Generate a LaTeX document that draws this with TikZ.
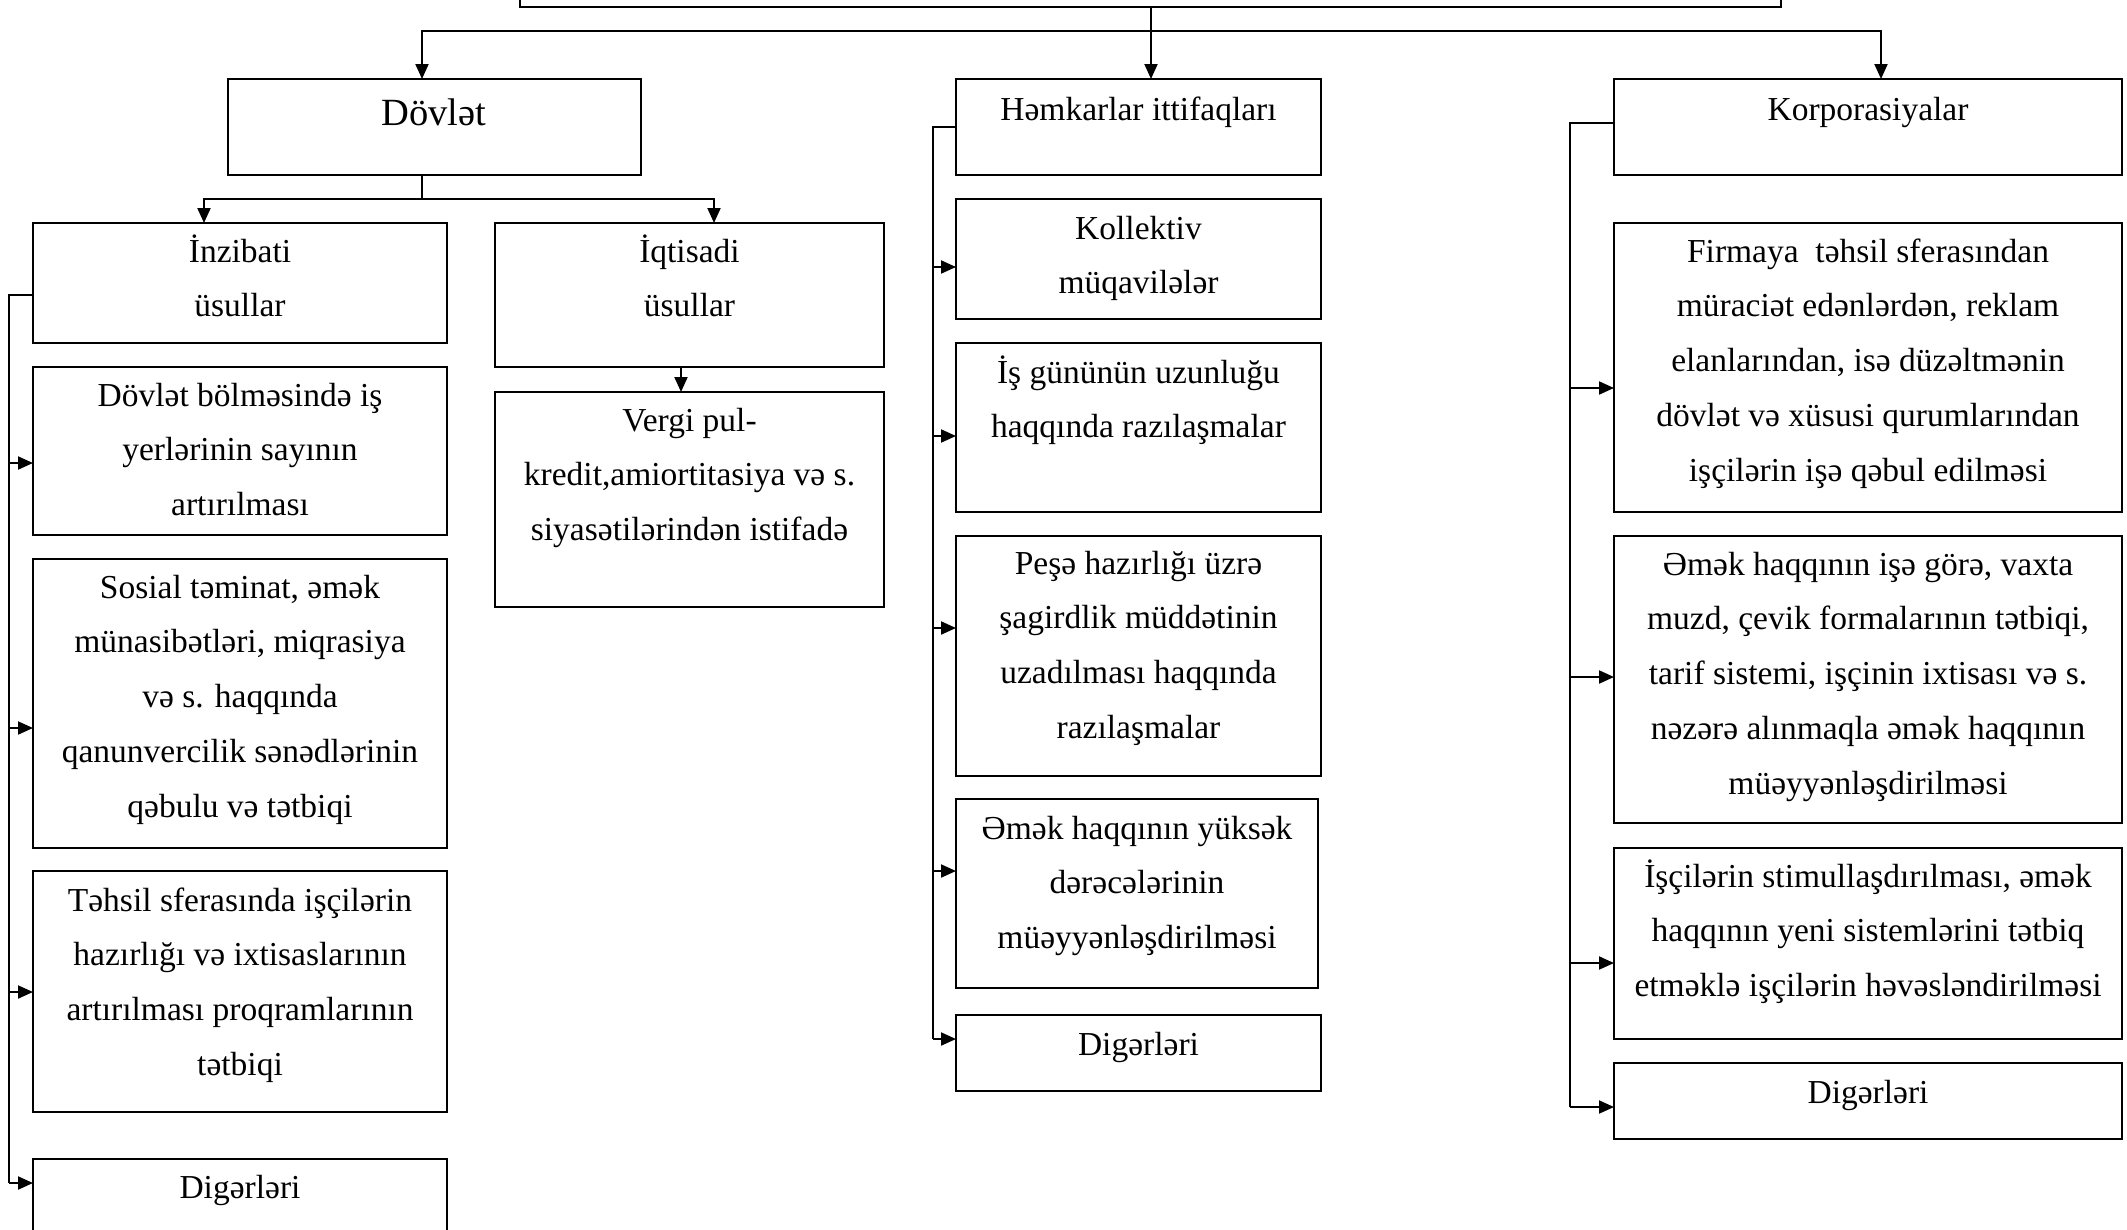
\documentclass[tikz,border=0pt]{standalone}
\usepackage{fontspec}
\setmainfont{Liberation Serif}
\usetikzlibrary{arrows.meta}
\newcommand\mybox[5]{\node[box, minimum width={(#4-#2)*1pt}, minimum height={(#5-#3)*1pt}] (#1) at (#2,#3) {};}
\newcommand\mytxt[4]{\node[txt] (#1) at (#2,#3-38.36) {\strut#4};}
\begin{document}
\begin{tikzpicture}[x=1pt,y=-1pt,
  box/.style={draw, line width=2.4pt, inner sep=0pt, outer sep=0pt, anchor=north west},
  txt/.style={inner sep=0pt, outer sep=0pt, align=center, anchor=north, font=\fontsize{33.5}{54.8}\selectfont},
  bigtxt/.style={txt, font=\fontsize{38.5}{54.8}\selectfont},
  conn/.style={line width=2pt},
  arr/.style={conn, -{Triangle[length=15pt,width=13pt]}},
]
\useasboundingbox (0,0) rectangle (2127,1229);
% boxes
\mybox{top}{520}{-30}{1781}{7}
\mybox{dov}{228}{79}{641}{175}
\mybox{inz}{33}{223}{447}{343}
\mybox{iqt}{495}{223}{884}{367}
\mybox{verg}{495}{392}{884}{607}
\mybox{dbol}{33}{367}{447}{535}
\mybox{sos}{33}{559}{447}{848}
\mybox{tah}{33}{871}{447}{1112}
\mybox{dig1}{33}{1159}{447}{1250}
\mybox{ham}{956}{79}{1321}{175}
\mybox{kol}{956}{199}{1321}{319}
\mybox{isg}{956}{343}{1321}{512}
\mybox{pes}{956}{536}{1321}{776}
\mybox{emy}{956}{799}{1318}{988}
\mybox{dig2}{956}{1015}{1321}{1091}
\mybox{kor}{1614}{79}{2122}{175}
\mybox{fir}{1614}{223}{2122}{512}
\mybox{emi}{1614}{536}{2122}{823}
\mybox{isc}{1614}{848}{2122}{1039}
\mybox{dig3}{1614}{1063}{2122}{1139}
% texts
\node[bigtxt] (dovt) at (434,125-38.36) {\strut Dövlət};
\mytxt{inzt}{240}{262}{İnzibati\\üsullar}
\mytxt{iqtt}{689.5}{262}{İqtisadi\\üsullar}
\mytxt{vergt}{689.5}{431}{Vergi pul-\\kredit,amiortitasiya və s.\\siyasətilərindən istifadə}
\mytxt{dbolt}{240}{406}{Dövlət bölməsində iş\\yerlərinin sayının\\artırılması}
\mytxt{sost}{240}{598}{Sosial təminat, əmək\\münasibətləri, miqrasiya\\və s. haqqında\\qanunvercilik sənədlərinin\\qəbulu və tətbiqi}
\mytxt{taht}{240}{911}{Təhsil sferasında işçilərin\\hazırlığı və ixtisaslarının\\artırılması proqramlarının\\tətbiqi}
\mytxt{dig1t}{240}{1198}{Digərləri}
\mytxt{hamt}{1138.5}{120}{Həmkarlar ittifaqları}
\mytxt{kolt}{1138.5}{239}{Kollektiv\\müqavilələr}
\mytxt{isgt}{1138.5}{383}{İş gününün uzunluğu\\haqqında razılaşmalar}
\mytxt{pest}{1138.5}{574}{Peşə hazırlığı üzrə\\şagirdlik müddətinin\\uzadılması haqqında\\razılaşmalar}
\mytxt{emyt}{1137}{839}{Əmək haqqının yüksək\\dərəcələrinin\\müəyyənləşdirilməsi}
\mytxt{dig2t}{1138.5}{1055}{Digərləri}
\mytxt{kort}{1868}{120}{Korporasiyalar}
\mytxt{firt}{1868}{262}{Firmaya~ təhsil sferasından\\müraciət edənlərdən, reklam\\elanlarından, isə düzəltmənin\\dövlət və xüsusi qurumlarından\\işçilərin işə qəbul edilməsi}
\mytxt{emit}{1868}{575}{Əmək haqqının işə görə, vaxta\\muzd, çevik formalarının tətbiqi,\\tarif sistemi, işçinin ixtisası və s.\\nəzərə alınmaqla əmək haqqının\\müəyyənləşdirilməsi}
\mytxt{isct}{1868}{887}{İşçilərin stimullaşdırılması, əmək\\haqqının yeni sistemlərini tətbiq\\etməklə işçilərin həvəsləndirilməsi}
\mytxt{dig3t}{1868}{1103}{Digərləri}
% top connectors
\coordinate (bM) at (1151,31);
\coordinate (bL) at (422,31);
\coordinate (bR) at (1881,31);
\draw[conn] (top.south -| bM) -- (bM);
\draw[arr] (bM) -- (ham.north -| bM);
\draw[arr] (bM) -- (bL) -- (dov.north -| bL);
\draw[arr] (bM) -- (bR) -- (kor.north -| bR);
% Dovlet split
\coordinate (dS) at (422,199);
\coordinate (dL) at (204,199);
\coordinate (dR) at (714,199);
\draw[conn] (dov.south -| dS) -- (dS);
\draw[arr] (dS) -- (dL) -- (inz.north -| dL);
\draw[arr] (dS) -- (dR) -- (iqt.north -| dR);
\coordinate (vx) at (681,380);
\draw[arr] (iqt.south -| vx) -- (verg.north -| vx);
% left bus
\coordinate (lT) at (9,295);
\coordinate (lB) at (9,1183);
\draw[conn] (inz.west |- lT) -- (lT) -- (lB);
\foreach \n/\yy in {dbol/463, sos/728, tah/992, dig1/1183}
  \draw[arr] (lT |- 0,\yy) -- (\n.west |- 0,\yy);
% middle bus
\coordinate (mT) at (933,127);
\coordinate (mB) at (933,1039);
\draw[conn] (ham.west |- mT) -- (mT) -- (mB);
\foreach \n/\yy in {kol/267, isg/436, pes/628, emy/871, dig2/1039}
  \draw[arr] (mT |- 0,\yy) -- (\n.west |- 0,\yy);
% right bus
\coordinate (rT) at (1570,123);
\coordinate (rB) at (1570,1107);
\draw[conn] (kor.west |- rT) -- (rT) -- (rB);
\foreach \n/\yy in {fir/388, emi/677, isc/963, dig3/1107}
  \draw[arr] (rT |- 0,\yy) -- (\n.west |- 0,\yy);
\end{tikzpicture}
\end{document}
